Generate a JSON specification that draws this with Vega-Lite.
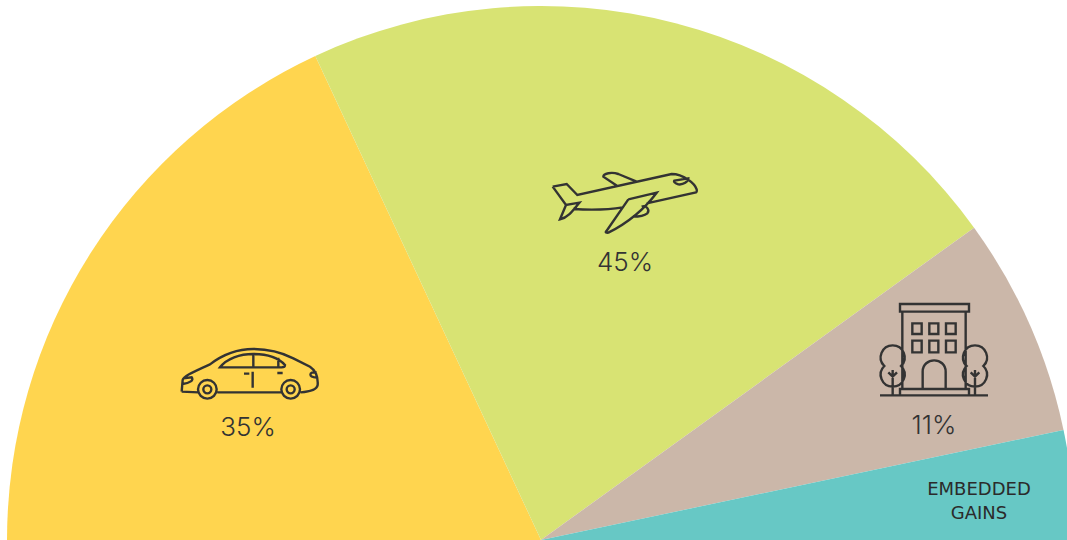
{
"$schema":"https://vega.github.io/schema/vega-lite/v6.json",
"width":1067,"height":540,"padding":0,"autosize":{"type":"none"},
"background":"white",
"config":{"view":{"stroke":null}},
"layer":[
{"data":{"values":[
{"name":"Car","cx":541,"cy":540,"start":-90,"end":-25},
{"name":"Air","cx":541,"cy":540,"start":-25,"end":54.2},
{"name":"Hotel","cx":541,"cy":540,"start":54.2,"end":78.1},
{"name":"Embedded gains","cx":541,"cy":540,"start":78.1,"end":90}
]},
"mark":{"type":"arc","outerRadius":534},
"encoding":{
"x":{"field":"cx","type":"quantitative","scale":{"domain":[0,1067],"nice":false,"zero":false},"axis":null},
"y":{"field":"cy","type":"quantitative","scale":{"domain":[0,540],"reverse":true,"nice":false,"zero":false},"axis":null},
"theta":{"field":"start","type":"quantitative","stack":null,"scale":{"domain":[-180,180],"range":[-3.14159265,3.14159265]}},
"theta2":{"field":"end"},
"color":{"field":"name","type":"nominal","legend":null,"scale":{"domain":["Car","Air","Hotel","Embedded gains"],"range":["#FFD54F","#D8E373","#CBB7A9","#67C8C5"]}}
}},
{"data":{"values":[
{"icon":"plane","px":625,"py":200},
{"icon":"car","px":250,"py":390},
{"icon":"building","px":935,"py":370}
]},
"mark":{"type":"point","filled":false,"stroke":"#333333","strokeWidth":2.4,"opacity":1,"size":0.4444},
"encoding":{
"x":{"field":"px","type":"quantitative"},
"y":{"field":"py","type":"quantitative"},
"shape":{"field":"icon","type":"nominal","legend":null,"scale":{"domain":["plane","car","building"],"range":[
"M-217,-40L-175,-48L-143,-15L140,-78C175,-78,210,-50,215,-32C216,-27,215,-24,213,-23L65,10M-217,-40L-177,15L-137,8C-155,30,-170,52,-195,58L-177,15M-155,27C-105,30,-55,30,-7,22M10,-2L95,-22C60,25,5,70,-50,98C-56,99,-59,97,-57,95L10,-2M-23,-42L-65,-70C-65,-80,-40,-85,-20,-78L35,-55M50,20C65,15,75,30,67,40C55,50,35,50,23,50M148,-58L190,-65C190,-55,175,-45,160,-47C150,-50,145,-55,148,-58Z",
"M-205,5L-202,-30C-200,-40,-180,-50,-120,-77C-90,-100,-50,-123,10,-123C60,-123,100,-110,130,-95L180,-70C195,-60,205,-45,203,-15C200,0,180,5,152,7M-205,5L-155,7M-98,7L93,7M-156,-2a28,28 0 1,0 56,0a28,28 0 1,0 -56,0M-140,-2a12,12 0 1,0 24,0a12,12 0 1,0 -24,0M94,-2a28,28 0 1,0 56,0a28,28 0 1,0 -56,0M110,-2a12,12 0 1,0 24,0a12,12 0 1,0 -24,0M-90,-68C-70,-95,-30,-108,10,-108C50,-108,85,-97,105,-75Q105,-68,95,-68L-90,-68ZM10,-108L10,-68M85,-97L85,-68M8,-55L8,-7M-18,-49L-2,-49M82,-51L98,-51M-200,-35L-175,-38C-168,-30,-180,-20,-202,-18M200,-53C175,-55,175,-40,200,-37",
"M-105,-198L102,-198L102,-175L-105,-175ZM-98,-175L-98,57M92,-175L92,57M-105,75L-105,57L102,57L102,75M-165,76L159,76M-68,-140L-40,-140L-40,-108L-68,-108ZM-17,-140L10,-140L10,-108L-17,-108ZM33,-140L62,-140L62,-108L33,-108ZM-68,-88L-40,-88L-40,-53L-68,-53ZM-17,-88L10,-88L10,-53L-17,-53ZM33,-88L62,-88L62,-53L33,-53ZM-37,57L-37,5C-37,-40,32,-40,32,5L32,57M-152,-12A36,36 0 1,1 -102,-12A36,36 0 1,1 -152,-12ZM-127,0L-127,76M-140,7L-127,20L-114,7M95,-12A36,36 0 1,1 145,-12A36,36 0 1,1 95,-12ZM120,0L120,76M107,7L120,20L133,7"
]}}
}},
{"data":{"values":[
{"t":"45%","tx":625,"ty":263},
{"t":"35%","tx":248,"ty":428},
{"t":"11%","tx":934,"ty":426}
]},
"mark":{"type":"text","font":"Inter","fontWeight":300,"fontSize":26,"color":"#333333","align":"center","baseline":"middle"},
"encoding":{
"x":{"field":"tx","type":"quantitative"},
"y":{"field":"ty","type":"quantitative"},
"text":{"field":"t"}
}},
{"data":{"values":[
{"t":"EMBEDDED","tx":979,"ty":490},
{"t":"GAINS","tx":979,"ty":514}
]},
"mark":{"type":"text","font":"DejaVu Sans","fontSize":18,"color":"#2b2b2b","align":"center","baseline":"middle"},
"encoding":{
"x":{"field":"tx","type":"quantitative"},
"y":{"field":"ty","type":"quantitative"},
"text":{"field":"t"}
}}
]
}
